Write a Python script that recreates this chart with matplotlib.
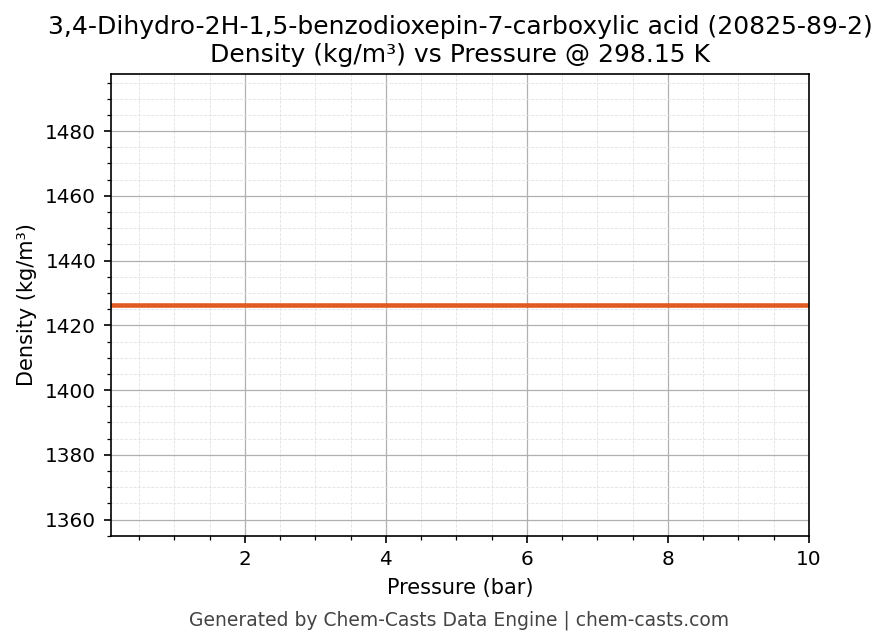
import numpy as np
import matplotlib
matplotlib.use("Agg")
import matplotlib.pyplot as plt
from matplotlib.ticker import AutoMinorLocator

pressure = [0.1, 1.0, 2.0, 3.0, 4.0, 5.0, 6.0, 7.0, 8.0, 9.0, 10.0]
density = [1426.3] * len(pressure)

fig, ax = plt.subplots(figsize=(887/150, 644/150), dpi=150)
ax.plot(pressure, density, color="#e05a22", lw=2.2)

ax.set_xlim(0.1, 10)
ax.set_ylim(density[0] * 0.95, density[0] * 1.05)
ax.xaxis.set_minor_locator(AutoMinorLocator(4))
ax.yaxis.set_minor_locator(AutoMinorLocator(4))
ax.tick_params(labelsize=9.6)
ax.grid(which="major", color="#b0b0b0", lw=0.6)
ax.grid(which="minor", color="#e2e2e2", lw=0.4, ls="--")

ax.set_title("3,4-Dihydro-2H-1,5-benzodioxepin-7-carboxylic acid (20825-89-2)\nDensity (kg/m³) vs Pressure @ 298.15 K", fontsize=12)
ax.set_xlabel("Pressure (bar)", fontsize=10)
ax.set_ylabel("Density (kg/m³)", fontsize=10)

plt.subplots_adjust(left=0.125, right=0.912, top=0.885, bottom=0.168)
fig.text(0.518, 0.028, "Generated by Chem-Casts Data Engine | chem-casts.com", ha="center", color="#444444", fontsize=9)
fig.savefig("out.png", dpi=150)
